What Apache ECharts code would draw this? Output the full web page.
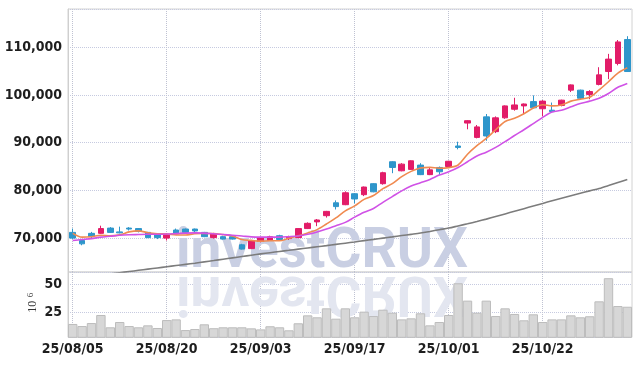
<!DOCTYPE html>
<html><head><meta charset="utf-8">
<script src="https://cdn.jsdelivr.net/npm/echarts@6/dist/echarts.min.js"></script>
<style>html,body{margin:0;padding:0;background:#fff}#c{width:642px;height:366px}</style>
</head><body><div id="c"></div>
<script>
const dates = ['25/08/05','25/08/06','25/08/07','25/08/08','25/08/11','25/08/12','25/08/13','25/08/14','25/08/18','25/08/19',
 '25/08/20','25/08/21','25/08/22','25/08/25','25/08/26','25/08/27','25/08/28','25/08/29','25/09/01','25/09/02',
 '25/09/03','25/09/04','25/09/05','25/09/08','25/09/09','25/09/10','25/09/11','25/09/12','25/09/15','25/09/16',
 '25/09/17','25/09/18','25/09/19','25/09/22','25/09/23','25/09/24','25/09/25','25/09/26','25/09/29','25/09/30',
 '25/10/01','25/10/02','25/10/10','25/10/13','25/10/14','25/10/15','25/10/16','25/10/17','25/10/20','25/10/21',
 '25/10/22','25/10/23','25/10/24','25/10/27','25/10/28','25/10/29','25/10/30','25/10/31','25/11/03','25/11/04'];
const opens = [71200,69500,71000,71000,72100,71300,72100,72000,71200,70700,
 70000,71700,71900,71900,71200,70100,70300,70300,68600,67800,
 69300,69500,70500,69900,70100,72000,73400,74700,77400,77000,
 79300,79100,81400,81400,86000,84100,84400,85300,83300,84800,
 85000,89300,94100,91100,95400,92300,95200,97000,97700,98600,
 97100,96800,97800,101000,101000,100100,102200,104900,106600,111600];
const closes = [70000,68800,70300,72000,71200,71100,71900,71400,70100,70100,
 70800,71000,71200,71500,70300,70900,69800,69800,67700,69400,
 70100,70300,69700,70300,72000,73100,73800,75600,76600,79500,
 78200,80700,79700,83700,84800,85500,86200,83300,84300,83900,
 86100,89000,94600,93300,91400,95200,97700,97900,98100,97300,
 98700,96500,98900,102100,99300,100700,104200,107500,111100,104900];
const highs = [72000,69600,71300,72600,72300,72400,72300,72100,71300,70800,
 71000,72000,72000,72000,71300,71100,70500,70400,68800,69500,
 70300,70500,70700,70500,72100,73300,74000,75700,77900,79800,
 79400,80800,81500,83900,86100,85700,86300,85700,84800,85000,
 86200,90200,94700,93700,96000,95500,97800,99400,98200,99900,
 98900,98400,99000,102200,101100,101000,105800,108600,111500,112300];
const lows = [69800,68500,70000,70900,71100,71000,71600,71200,70000,69800,
 69500,70800,71100,71100,70200,69900,69700,69700,67600,67700,
 69100,69400,69600,69600,70000,71900,72500,74300,76000,76900,
 77300,78800,79600,81200,83600,84000,84300,83200,83200,83200,
 84900,88600,92800,90900,90400,92000,95000,96700,96000,97200,
 95500,96300,97600,100600,99100,99100,102000,103300,106200,104800];
const ma5 = [71000,70200,70300,70600,70460,70680,71300,71520,71140,70920,
 70860,70680,70640,70920,70960,70980,70740,70460,69700,69520,
 69360,69460,69440,69960,70480,71080,71780,72960,74220,75720,
 76740,78120,78940,80360,81420,82880,83980,84700,84820,84640,
 84760,85320,87580,89380,90880,92700,94440,95100,96060,97240,
 97940,97700,97900,98700,99100,99500,101040,102760,104560,105680];
const ma20 = [69500,69700,69900,70200,70400,70600,70700,70750,70800,70800,
 70850,70950,71050,71100,71050,70900,70750,70600,70450,70250,
 70200,70200,70200,70300,70450,70800,71300,71900,72600,73300,
 74400,75400,76200,77500,78700,79900,80900,81600,82300,83200,
 83900,84800,86000,87200,88000,89000,90200,91500,92700,94000,
 95300,96400,96800,97500,98200,98700,99300,100300,101600,102400];
const ma60 = [61500,61750,62000,62250,62500,62750,63000,63250,63500,63750,
 64000,64250,64500,64750,65030,65300,65580,65860,66140,66420,
 66690,66950,67200,67440,67690,67940,68180,68420,68680,68940,
 69200,69470,69730,70000,70260,70530,70790,71060,71400,71760,
 72100,72550,73000,73480,73980,74520,75070,75620,76170,76720,
 77270,77820,78350,78880,79400,79900,80390,81000,81650,82300];
const volumes = [15.2,13.4,16.0,23.0,12.3,16.9,13.4,12.3,14.0,11.7,
 18.6,19.2,9.9,10.8,14.9,11.5,12.3,12.3,12.3,11.4,
 10.5,13.2,12.3,9.7,15.8,22.7,21.0,28.8,19.8,28.8,
 21.0,25.9,22.1,27.6,25.0,19.2,20.1,24.5,14.0,16.9,
 23.0,50.6,35.5,25.0,35.5,22.1,28.8,23.9,18.4,23.6,
 16.9,19.2,19.2,22.7,21.0,21.9,34.9,55.0,30.8,30.2];
const volumeUnit = ['10', '6'];
const watermark = 'investCRUX';

const labelFont = {fontFamily: '"Liberation Sans Narrow", "DejaVu Sans Condensed", "Liberation Sans", sans-serif', fontSize: 14, fontWeight: 'bold', color: '#1e1e1e'};
const vDotted = {show: true, interval: 9, alignWithLabel: true, lineStyle: {type: 'dotted', color: '#bfc2d2', width: 1}};
const wmFont = 'bold 55px Roboto, "Liberation Sans", sans-serif';
const chart = echarts.init(document.getElementById('c'));
chart.setOption({
  animation: false,
  grid: [
    {left: 68, right: 10, top: 9, height: 263, show: true, borderColor: '#d2d2d2', borderWidth: 1},
    {left: 68, right: 10, top: 272, height: 65.3, show: true, borderColor: '#d2d2d2', borderWidth: 1}
  ],
  xAxis: [
    {type: 'category', data: dates, gridIndex: 0, boundaryGap: true, axisLine: {show: false}, axisTick: {show: false}, axisLabel: {show: false}, splitLine: vDotted},
    {type: 'category', data: dates, gridIndex: 1, boundaryGap: true, axisLine: {show: false}, axisTick: {show: false},
     axisLabel: Object.assign({show: true, interval: 9, margin: 5}, labelFont), splitLine: vDotted}
  ],
  yAxis: [
    {type: 'value', gridIndex: 0, min: 62900, max: 118000, splitNumber: 5, minInterval: 10000, maxInterval: 10000,
     axisLine: {show: true, lineStyle: {color: '#cfcfcf'}}, axisTick: {show: false},
     axisLabel: Object.assign({showMinLabel: false, showMaxLabel: false, margin: 6}, labelFont),
     splitLine: {show: true, lineStyle: {type: 'dotted', color: '#c6cae0'}}},
    {type: 'value', gridIndex: 1, min: 3.6, max: 60.4, splitNumber: 2, minInterval: 25, maxInterval: 25,
     axisLine: {show: true, lineStyle: {color: '#cfcfcf'}}, axisTick: {show: false},
     axisLabel: Object.assign({showMinLabel: false, showMaxLabel: false, margin: 6}, labelFont),
     splitLine: {show: true, lineStyle: {type: 'dotted', color: '#c6cae0'}}}
  ],
  graphic: [
    {type: 'text', z: 1, x: 176, y: 253, style: {text: watermark, font: wmFont, fill: '#c9cfe3', verticalAlign: 'middle'}},
    {type: 'text', z: 1, x: 176, y: 291, scaleY: -1, style: {text: watermark, font: wmFont, verticalAlign: 'middle', fill: '#e3e6f0'}},
    {type: 'text', z: 5, x: 32.5, y: 306.7, rotation: Math.PI / 2, style: {text: volumeUnit[0], font: '12px "Liberation Serif", serif', fill: '#333', align: 'center', verticalAlign: 'middle'}},
    {type: 'text', z: 5, x: 30.4, y: 295, rotation: Math.PI / 2, style: {text: volumeUnit[1], font: '9px "Liberation Serif", serif', fill: '#333', align: 'center', verticalAlign: 'middle'}}
  ],
  series: [
    {type: 'candlestick', xAxisIndex: 0, yAxisIndex: 0, barWidth: 6,
     data: dates.map((d, i) => [opens[i], closes[i], lows[i], highs[i]]),
     itemStyle: {color: '#e21c68', color0: '#2e96cb', borderColor: '#e21c68', borderColor0: '#2e96cb', borderWidth: 1}},
    {type: 'line', name: 'MA5', xAxisIndex: 0, yAxisIndex: 0, data: ma5, symbol: 'none', smooth: 0.3, lineStyle: {color: '#f08a50', width: 1.6}, z: 3},
    {type: 'line', name: 'MA20', xAxisIndex: 0, yAxisIndex: 0, data: ma20, symbol: 'none', smooth: 0.3, lineStyle: {color: '#d052e6', width: 1.6}, z: 3},
    {type: 'line', name: 'MA60', xAxisIndex: 0, yAxisIndex: 0, data: ma60, symbol: 'none', smooth: 0.3, lineStyle: {color: '#7c7c7c', width: 1.6}, z: 3},
    {type: 'bar', name: 'Volume', xAxisIndex: 1, yAxisIndex: 1, data: volumes, barCategoryGap: 0,
     itemStyle: {color: '#d7d7d7', borderColor: '#bdbdbd', borderWidth: 1}}
  ]
});
</script></body></html>
